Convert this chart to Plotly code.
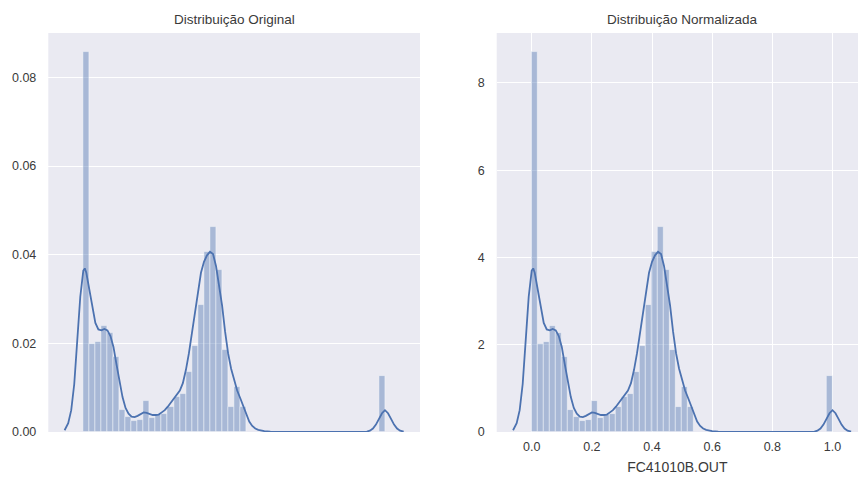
import plotly.graph_objects as go

# Histogram of FC41010B.OUT on the normalised [0, 1] scale: 50 equal bins, density heights
bin_lo = 0.0
bin_hi = 1.0
n_bins = 50
density_norm = [8.71, 2.01, 2.07, 2.43, 2.26, 1.73, 0.50, 0.35, 0.26, 0.28,
                0.71, 0.32, 0.38, 0.42, 0.58, 0.81, 0.87, 1.38, 1.96, 2.90,
                4.12, 4.70, 3.72, 1.88, 0.57, 1.03, 0.57, 0.0, 0.0, 0.0,
                0.0, 0.0, 0.0, 0.0, 0.0, 0.0, 0.0, 0.0, 0.0, 0.0,
                0.0, 0.0, 0.0, 0.0, 0.0, 0.0, 0.0, 0.0, 0.0, 1.29]

# Kernel density estimate on the normalised scale
kde_x = [-0.062, -0.05, -0.04, -0.03, -0.02, -0.01, 0.0, 0.005, 0.01, 0.02,
         0.03, 0.04, 0.05, 0.06, 0.07, 0.08, 0.09, 0.10, 0.11, 0.12,
         0.13, 0.14, 0.15, 0.16, 0.17, 0.18, 0.19, 0.20, 0.21, 0.22,
         0.23, 0.24, 0.25, 0.26, 0.27, 0.28, 0.29, 0.30, 0.31, 0.32,
         0.33, 0.34, 0.35, 0.36, 0.37, 0.38, 0.39, 0.40, 0.41, 0.42,
         0.43, 0.44, 0.45, 0.46, 0.47, 0.48, 0.49, 0.50, 0.51, 0.52,
         0.53, 0.54, 0.55, 0.56, 0.57, 0.58, 0.59, 0.60, 0.62, 0.65,
         0.70, 0.80, 0.90, 0.93, 0.94, 0.95, 0.96, 0.97, 0.98, 0.99,
         1.00, 1.01, 1.02, 1.03, 1.04, 1.05, 1.062]
kde_y = [0.04, 0.20, 0.50, 1.10, 2.10, 3.10, 3.70, 3.75, 3.65, 3.25,
         2.80, 2.50, 2.35, 2.33, 2.36, 2.33, 2.20, 1.95, 1.55, 1.15,
         0.80, 0.55, 0.42, 0.35, 0.34, 0.37, 0.42, 0.45, 0.44, 0.41,
         0.39, 0.39, 0.40, 0.45, 0.50, 0.58, 0.67, 0.75, 0.84, 0.95,
         1.12, 1.42, 1.80, 2.25, 2.75, 3.25, 3.65, 3.90, 4.05, 4.13,
         4.08, 3.80, 3.35, 2.90, 2.30, 1.80, 1.45, 1.18, 0.95, 0.78,
         0.60, 0.40, 0.24, 0.14, 0.08, 0.05, 0.03, 0.02, 0.01, 0.0,
         0.0, 0.0, 0.0, 0.0, 0.01, 0.03, 0.08, 0.17, 0.30, 0.43,
         0.50, 0.43, 0.30, 0.17, 0.08, 0.03, 0.01]

# Range of the raw (un-normalised) signal
orig_min = 0.0
orig_max = 101.6

y_ticks_orig = [0.00, 0.02, 0.04, 0.06, 0.08]
y_ticks_norm = [0, 2, 4, 6, 8]
x_ticks_norm = [0.0, 0.2, 0.4, 0.6, 0.8, 1.0]

title_left = "Distribuição Original"
title_right = "Distribuição Normalizada"
x_label = "FC41010B.OUT"

BLUE = "#4C72B0"
BG = "#EAEAF2"
TXT = "#3a3a3a"
FONT = "Liberation Sans, Arial, sans-serif"

span = orig_max - orig_min
width_norm = (bin_hi - bin_lo) / n_bins
centers_norm = [bin_lo + (i + 0.5) * width_norm for i in range(n_bins)]

# keep only populated bins
keep = [i for i, h in enumerate(density_norm) if h > 0]
bx_norm = [centers_norm[i] for i in keep]
bh_norm = [density_norm[i] for i in keep]
bx_orig = [orig_min + c * span for c in bx_norm]
bh_orig = [h / span for h in bh_norm]
kx_orig = [orig_min + x * span for x in kde_x]
ky_orig = [y / span for y in kde_y]

bar_style = dict(color="rgba(76,114,176,0.42)",
                 line=dict(color="rgba(255,255,255,0.55)", width=0.8))
line_style = dict(color=BLUE, width=1.8)

fig = go.Figure()
fig.add_trace(go.Bar(x=bx_orig, y=bh_orig, width=width_norm * span,
                     marker=bar_style, xaxis="x", yaxis="y", showlegend=False))
fig.add_trace(go.Scatter(x=kx_orig, y=ky_orig, mode="lines", line=line_style,
                         xaxis="x", yaxis="y", showlegend=False))
fig.add_trace(go.Bar(x=bx_norm, y=bh_norm, width=width_norm,
                     marker=bar_style, xaxis="x2", yaxis="y2", showlegend=False))
fig.add_trace(go.Scatter(x=kde_x, y=kde_y, mode="lines", line=line_style,
                         xaxis="x2", yaxis="y2", showlegend=False))

ydom = [1 - 432 / 477, 1 - 33 / 477]
grid = dict(showgrid=True, gridcolor="white", gridwidth=1.3, zeroline=False,
            showline=False, ticks="", automargin=False,
            tickfont=dict(family=FONT, size=12.5, color=TXT))

fig.update_layout(
    width=858, height=477,
    margin=dict(l=0, r=0, t=0, b=0),
    paper_bgcolor="white", plot_bgcolor=BG,
    bargap=0, barmode="overlay",
    font=dict(family=FONT, color=TXT),
    xaxis=dict(domain=[48.3 / 858, 420 / 858], anchor="y",
               range=[orig_min - 0.116 * span, orig_min + 1.116 * span],
               showticklabels=False, showgrid=False, zeroline=False, ticks="",
               automargin=False),
    yaxis=dict(domain=ydom, anchor="x",
               range=[0, 1.05 * max(bh_orig)],
               tickvals=y_ticks_orig, ticktext=[f"{v:.2f}" for v in y_ticks_orig],
               ticklabelstandoff=11, **grid),
    xaxis2=dict(domain=[496.7 / 858, 1.0], anchor="y2",
                range=[-0.1164, 1.0848],
                tickvals=x_ticks_norm, ticktext=[f"{v:.1f}" for v in x_ticks_norm],
                ticklabelstandoff=5,
                title=dict(text=x_label, font=dict(family=FONT, size=14, color=TXT),
                           standoff=9),
                **grid),
    yaxis2=dict(domain=ydom, anchor="x2",
                range=[0, 1.05 * max(bh_norm)],
                tickvals=y_ticks_norm, ticktext=[str(v) for v in y_ticks_norm],
                ticklabelstandoff=11, **grid),
    annotations=[
        dict(text=title_left, x=(48.3 + 420) / 2 / 858, y=1 - 19.5 / 477,
             xref="paper", yref="paper", xanchor="center", yanchor="middle",
             showarrow=False, font=dict(family=FONT, size=13.5, color=TXT)),
        dict(text=title_right, x=(496.7 + 868) / 2 / 858, y=1 - 19.5 / 477,
             xref="paper", yref="paper", xanchor="center", yanchor="middle",
             showarrow=False, font=dict(family=FONT, size=13.5, color=TXT)),
    ],
)

fig.write_html("out.html")
